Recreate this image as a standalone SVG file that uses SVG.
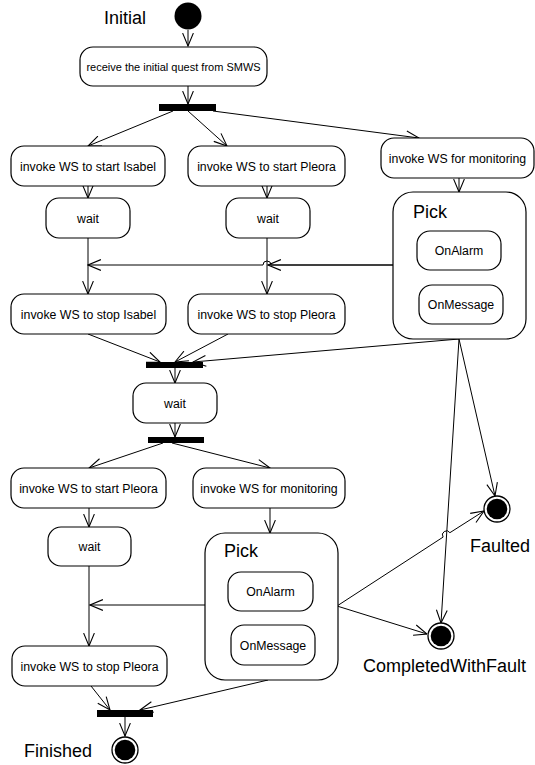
<svg xmlns="http://www.w3.org/2000/svg" width="535" height="765" viewBox="0 0 535 765">
<style>
.n{fill:#fff;stroke:#000;stroke-width:1.2}
.t{font-family:"Liberation Sans",Arial,sans-serif;font-size:12.3px;fill:#000;text-anchor:middle}
.L{font-family:"Liberation Sans",Arial,sans-serif;font-size:18px;fill:#000}
.bar{fill:#000}
.c{fill:none;stroke:#000;stroke-width:1}
.a{marker-end:url(#arr)}
</style>
<defs>
<marker id="arr" markerUnits="userSpaceOnUse" markerWidth="14" markerHeight="12" viewBox="0 0 13 11" refX="12.5" refY="5.5" orient="auto">
<path d="M0.5,0.5 L12.5,5.5 L0.5,10.5" fill="none" stroke="#000" stroke-width="1"/>
</marker>
</defs>
<rect width="535" height="765" fill="#fff"/>

<g id="connectors">
<path class="c a" d="M188,30 V46"/>
<path class="c a" d="M188,86 V104"/>
<path class="c a" d="M173,111 L88,146"/>
<path class="c a" d="M188,111 L227,146"/>
<path class="c a" d="M213,111 L419,138"/>
<path class="c a" d="M88,186 V198"/>
<path class="c a" d="M267,186 V198"/>
<path class="c a" d="M459,178 V192"/>
<path class="c a" d="M88,238 V294"/>
<path class="c a" d="M267,238 V294"/>
<path class="c a" d="M393,265 H268"/>
<path class="c a" d="M393,265 H271 A4,4 0 0 0 263,265 H88"/>
<path class="c a" d="M88,334 L160,362"/>
<path class="c a" d="M228,334 L175,362"/>
<path class="c a" d="M459,339 L193,362"/>
<path class="c a" d="M175,368 V383"/>
<path class="c a" d="M175,423 V437"/>
<path class="c a" d="M163,443 L89,468"/>
<path class="c a" d="M172,443 L270,468"/>
<path class="c a" d="M89,508 V527"/>
<path class="c a" d="M270,508 V533"/>
<path class="c a" d="M89,566 V646"/>
<path class="c a" d="M205,605 H90"/>
<path class="c a" d="M91,686 L110,710"/>
<path class="c a" d="M268,680 L140,710"/>
<path class="c a" d="M125,717 V736"/>
<path class="c a" d="M459,339 L495,496"/>
<path class="c a" d="M459,339 L441,623"/>
<path class="c a" d="M337,606 L443.1,537.1 A4,4 0 0 1 449.9,532.7 L484,511"/>
<path class="c a" d="M337,606 L427,634"/>
</g>

<g id="initial">
<circle cx="188" cy="16" r="13.5" fill="#000"/>
<text class="L" x="104" y="24">Initial</text>
</g>

<g id="receive">
<rect class="n" x="80" y="47" width="187" height="39" rx="13"/>
<text class="t" x="173.5" y="70.5" font-size="11" style="font-size:11px">receive the initial quest from SMWS</text>
</g>

<g id="fork1"><rect class="bar" x="159" y="104" width="57" height="7"/></g>

<g id="startIsabel">
<rect class="n" x="11" y="146" width="154" height="40" rx="13"/>
<text class="t" x="88" y="170.5">invoke WS to start Isabel</text>
</g>
<g id="startPleora">
<rect class="n" x="188" y="146" width="157" height="40" rx="13"/>
<text class="t" x="266.5" y="170.5">invoke WS to start Pleora</text>
</g>
<g id="monitor1">
<rect class="n" x="381" y="138" width="153" height="40" rx="13"/>
<text class="t" x="457.5" y="162.5">invoke WS for monitoring</text>
</g>

<g id="wait1">
<rect class="n" x="46" y="198" width="84" height="40" rx="13"/>
<text class="t" x="88" y="222.5">wait</text>
</g>
<g id="wait2">
<rect class="n" x="226" y="198" width="84" height="40" rx="13"/>
<text class="t" x="268" y="222.5">wait</text>
</g>

<g id="pick1">
<rect class="n" x="393" y="192" width="133" height="147" rx="20"/>
<text class="L" x="413" y="218">Pick</text>
<rect class="n" x="417" y="231" width="84" height="39" rx="13"/>
<text class="t" x="459" y="255">OnAlarm</text>
<rect class="n" x="419" y="285" width="84" height="39" rx="13"/>
<text class="t" x="461" y="309">OnMessage</text>
</g>

<g id="stopIsabel">
<rect class="n" x="11" y="294" width="155" height="40" rx="13"/>
<text class="t" x="88.5" y="318.5">invoke WS to stop Isabel</text>
</g>
<g id="stopPleora">
<rect class="n" x="188" y="294" width="157" height="40" rx="13"/>
<text class="t" x="266.5" y="318.5">invoke WS to stop Pleora</text>
</g>

<g id="join2"><rect class="bar" x="146" y="362" width="57" height="6"/></g>

<g id="wait3">
<rect class="n" x="133" y="383" width="84" height="40" rx="13"/>
<text class="t" x="175" y="407.5">wait</text>
</g>

<g id="fork3"><rect class="bar" x="148" y="437" width="56" height="6"/></g>

<g id="startPleora2">
<rect class="n" x="11" y="468" width="155" height="40" rx="13"/>
<text class="t" x="88.5" y="492.5">invoke WS to start Pleora</text>
</g>
<g id="monitor2">
<rect class="n" x="193" y="468" width="152" height="40" rx="13"/>
<text class="t" x="269" y="492.5">invoke WS for monitoring</text>
</g>

<g id="wait4">
<rect class="n" x="48" y="527" width="83" height="39" rx="13"/>
<text class="t" x="89.5" y="551">wait</text>
</g>

<g id="pick2">
<rect class="n" x="205" y="533" width="133" height="147" rx="20"/>
<text class="L" x="224" y="557">Pick</text>
<rect class="n" x="228" y="572" width="85" height="39" rx="13"/>
<text class="t" x="270.5" y="596">OnAlarm</text>
<rect class="n" x="231" y="625" width="84" height="40" rx="13"/>
<text class="t" x="273" y="649.5">OnMessage</text>
</g>

<g id="stopPleora2">
<rect class="n" x="12" y="646" width="155" height="40" rx="13"/>
<text class="t" x="89.5" y="670.5">invoke WS to stop Pleora</text>
</g>

<g id="join4"><rect class="bar" x="97" y="710" width="56" height="7"/></g>

<g id="finished">
<circle cx="125" cy="750" r="13" fill="#fff" stroke="#000" stroke-width="1.3"/>
<circle cx="125" cy="750" r="10.3" fill="#000"/>
<text class="L" x="24" y="757">Finished</text>
</g>

<g id="faulted">
<circle cx="497" cy="509" r="13" fill="#fff" stroke="#000" stroke-width="1.3"/>
<circle cx="497" cy="509" r="10.3" fill="#000"/>
<text class="L" x="470" y="552">Faulted</text>
</g>

<g id="completedWithFault">
<circle cx="441" cy="636" r="13" fill="#fff" stroke="#000" stroke-width="1.3"/>
<circle cx="441" cy="636" r="10.3" fill="#000"/>
<text class="L" x="363" y="672">CompletedWithFault</text>
</g>
</svg>
